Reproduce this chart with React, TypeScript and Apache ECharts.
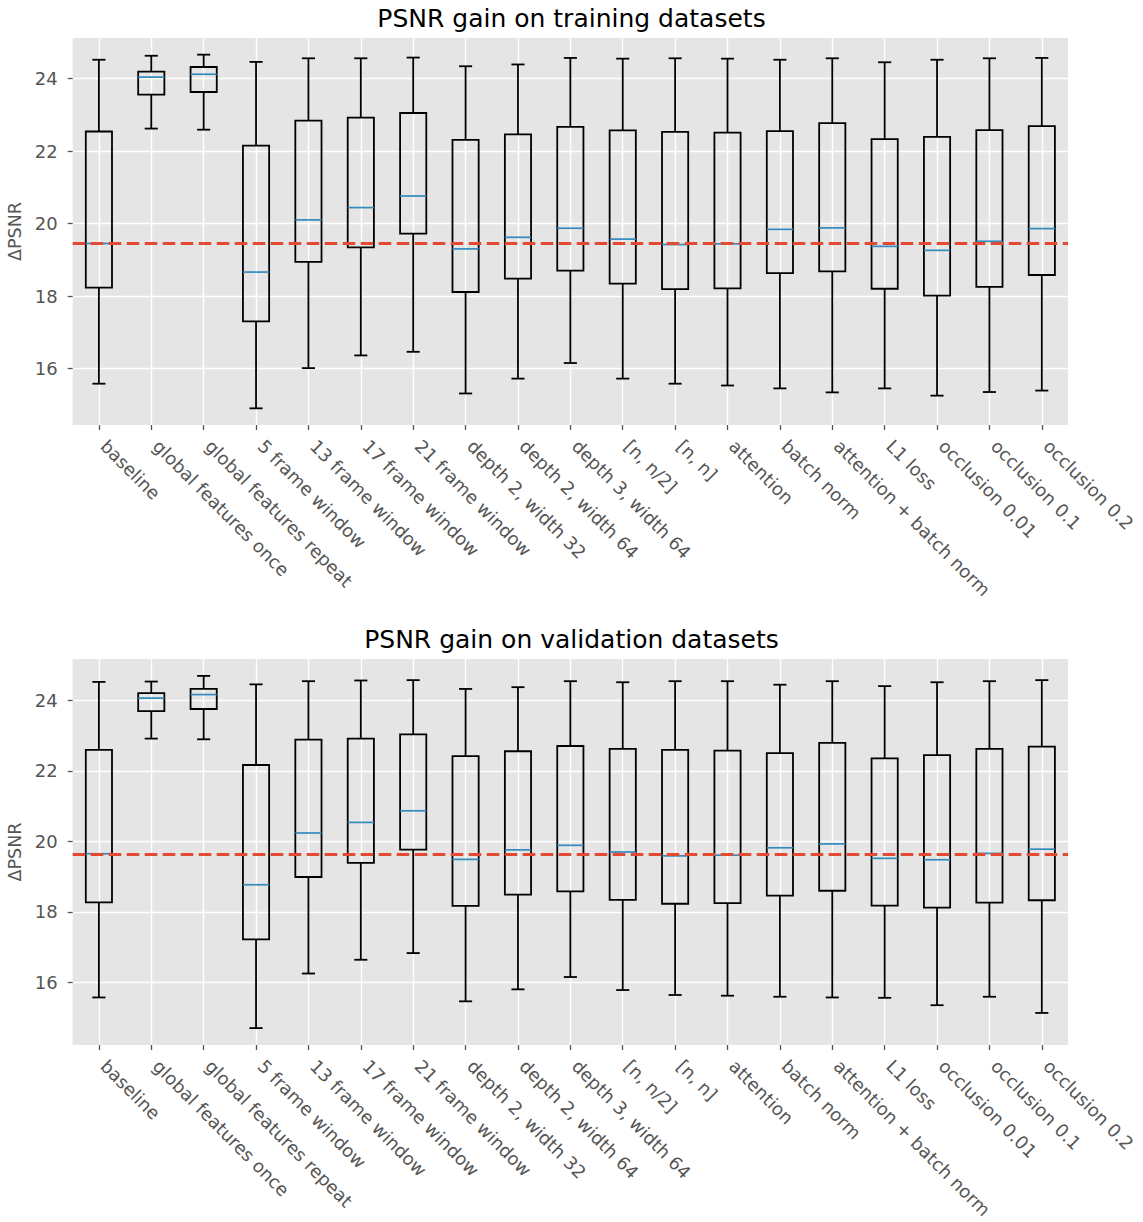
import React, { useEffect, useRef } from "react";
import * as echarts from "echarts";

const categories = [
  "baseline",
  "global features once",
  "global features repeat",
  "5 frame window",
  "13 frame window",
  "17 frame window",
  "21 frame window",
  "depth 2, width 32",
  "depth 2, width 64",
  "depth 3, width 64",
  "[n, n/2]",
  "[n, n]",
  "attention",
  "batch norm",
  "attention + batch norm",
  "L1 loss",
  "occlusion 0.01",
  "occlusion 0.1",
  "occlusion 0.2",
];

// Training datasets
const trainLow = [15.58, 22.62, 22.59, 14.9, 16.01, 16.36, 16.46, 15.31, 15.72, 16.15, 15.72, 15.58, 15.53, 15.45, 15.34, 15.45, 15.25, 15.35, 15.39];
const trainQ1 = [18.23, 23.56, 23.63, 17.3, 18.94, 19.34, 19.72, 18.11, 18.48, 18.7, 18.34, 18.19, 18.21, 18.63, 18.68, 18.2, 18.01, 18.25, 18.58];
const trainMed = [19.45, 24.04, 24.12, 18.66, 20.1, 20.44, 20.76, 19.3, 19.62, 19.87, 19.57, 19.42, 19.44, 19.84, 19.88, 19.37, 19.26, 19.51, 19.86];
const trainQ3 = [22.54, 24.19, 24.32, 22.15, 22.84, 22.92, 23.05, 22.31, 22.46, 22.67, 22.57, 22.53, 22.51, 22.55, 22.77, 22.33, 22.39, 22.58, 22.69];
const trainHigh = [24.52, 24.63, 24.66, 24.46, 24.56, 24.56, 24.58, 24.34, 24.39, 24.57, 24.55, 24.56, 24.55, 24.52, 24.56, 24.45, 24.52, 24.56, 24.57];

// Validation datasets
const valLow = [15.57, 22.92, 22.9, 14.7, 16.25, 16.64, 16.83, 15.46, 15.8, 16.15, 15.78, 15.64, 15.62, 15.59, 15.57, 15.56, 15.35, 15.59, 15.13];
const valQ1 = [18.27, 23.7, 23.76, 17.22, 18.99, 19.39, 19.77, 18.17, 18.49, 18.58, 18.34, 18.23, 18.25, 18.46, 18.6, 18.18, 18.12, 18.26, 18.33];
const valMed = [19.65, 24.07, 24.17, 18.77, 20.24, 20.54, 20.87, 19.49, 19.76, 19.89, 19.7, 19.59, 19.61, 19.82, 19.93, 19.52, 19.48, 19.66, 19.78];
const valQ3 = [22.6, 24.21, 24.33, 22.17, 22.89, 22.92, 23.04, 22.42, 22.56, 22.71, 22.63, 22.6, 22.58, 22.51, 22.8, 22.36, 22.45, 22.63, 22.69];
const valHigh = [24.53, 24.54, 24.7, 24.46, 24.55, 24.57, 24.58, 24.33, 24.38, 24.55, 24.52, 24.55, 24.55, 24.45, 24.55, 24.41, 24.52, 24.55, 24.58];

const yTicks = [16, 18, 20, 22, 24];
const titles = ["PSNR gain on training datasets", "PSNR gain on validation datasets"];
const yLimits = [
  [14.44, 25.12],
  [14.22, 25.18],
];

const FONT = "DejaVu Sans";
const TICK_COLOR = "#555555";
const MEDIAN_COLOR = "#348ABD";
const REF_COLOR = "#E24A33";

function buildRows(lo: number[], q1: number[], md: number[], q3: number[], hi: number[]) {
  return categories.map((_, i) => [i + 1, lo[i], q1[i], md[i], q3[i], hi[i]]);
}

const renderBox = (params: any, api: any) => {
  const x = api.value(0);
  const lo = api.coord([x, api.value(1)]);
  const q1 = api.coord([x, api.value(2)]);
  const md = api.coord([x, api.value(3)]);
  const q3 = api.coord([x, api.value(4)]);
  const hi = api.coord([x, api.value(5)]);
  const band = api.size([1, 0])[0];
  const bw = band * 0.5;
  const cw = band * 0.25;
  const cx = lo[0];
  const black = { stroke: "#000", lineWidth: 1.8, fill: "none" };
  return {
    type: "group",
    children: [
      { type: "line", shape: { x1: cx, y1: lo[1], x2: cx, y2: q1[1] }, style: black },
      { type: "line", shape: { x1: cx, y1: q3[1], x2: cx, y2: hi[1] }, style: black },
      { type: "line", shape: { x1: cx - cw / 2, y1: lo[1], x2: cx + cw / 2, y2: lo[1] }, style: black },
      { type: "line", shape: { x1: cx - cw / 2, y1: hi[1], x2: cx + cw / 2, y2: hi[1] }, style: black },
      {
        type: "rect",
        shape: { x: cx - bw / 2, y: q3[1], width: bw, height: q1[1] - q3[1] },
        style: black,
      },
      {
        type: "line",
        shape: { x1: cx - bw / 2, y1: md[1], x2: cx + bw / 2, y2: md[1] },
        style: { stroke: MEDIAN_COLOR, lineWidth: 1.7 },
      },
    ],
  };
};

export default function App() {
  const ref = useRef<HTMLDivElement>(null);
  useEffect(() => {
    if (!ref.current) return;
    const chart = echarts.init(ref.current, undefined, { renderer: "svg" });
    const gridTops = [38, 659];
    const gridHeights = [387, 386];
    const xIdx = categories.map((_, i) => i + 1);
    const datasets = [
      buildRows(trainLow, trainQ1, trainMed, trainQ3, trainHigh),
      buildRows(valLow, valQ1, valMed, valQ3, valHigh),
    ];
    const refValues = [trainMed[0], valMed[0]];
    const option: any = {
      animation: false,
      backgroundColor: "#ffffff",
      textStyle: { fontFamily: FONT },
      title: titles.map((t, i) => ({
        text: t,
        left: "center",
        top: gridTops[i] - 37,
        textStyle: { fontFamily: FONT, fontSize: 25, fontWeight: "normal", color: "#000" },
      })),
      grid: gridTops.map((top, i) => ({
        left: 72.7,
        right: 75,
        top,
        height: gridHeights[i],
        show: true,
        containLabel: false,
        outerBoundsMode: "none",
        backgroundColor: "#E5E5E5",
        borderWidth: 0,
      })),
      xAxis: [0, 1].map((i) => ({
        type: "value",
        gridIndex: i,
        min: 0.5,
        max: 19.5,
        axisLine: { show: false },
        axisTick: {
          show: true,
          customValues: xIdx,
          length: 5,
          lineStyle: { color: TICK_COLOR, width: 1.3 },
        },
        axisLabel: {
          customValues: xIdx,
          rotate: -45,
          margin: 13,
          padding: [0, 0, 0, 7],
          fontSize: 18,
          fontFamily: FONT,
          color: TICK_COLOR,
          formatter: (v: number) => categories[Math.round(v) - 1] ?? "",
        },
        splitLine: { show: true, lineStyle: { color: "#ffffff", width: 1.4 } },
      })),
      yAxis: [0, 1].map((i) => ({
        type: "value",
        gridIndex: i,
        min: yLimits[i][0],
        max: yLimits[i][1],
        name: "ΔPSNR",
        nameLocation: "middle",
        nameRotate: 90,
        nameGap: 39,
        nameTextStyle: { fontSize: 17.5, fontFamily: FONT, color: TICK_COLOR },
        axisLine: { show: false },
        axisTick: {
          show: true,
          customValues: yTicks,
          length: 5,
          lineStyle: { color: TICK_COLOR, width: 1.3 },
        },
        axisLabel: {
          customValues: yTicks,
          margin: 15,
          fontSize: 18,
          fontFamily: FONT,
          color: TICK_COLOR,
        },
        splitLine: { show: true, lineStyle: { color: "#ffffff", width: 1.4 } },
      })),
      series: [0, 1].map((i) => ({
        type: "custom",
        xAxisIndex: i,
        yAxisIndex: i,
        data: datasets[i],
        encode: { x: 0, y: [1, 2, 3, 4, 5] },
        renderItem: renderBox,
        silent: true,
        markLine: {
          silent: true,
          symbol: "none",
          label: { show: false },
          lineStyle: { color: REF_COLOR, type: [12.6, 5.4], width: 3.2 },
          data: [{ yAxis: refValues[i] }],
        },
      })),
    };
    chart.setOption(option);
    return () => chart.dispose();
  }, []);
  return (
    <div
      ref={ref}
      style={{ position: "absolute", left: 0, top: 0, width: 1143, height: 1222 }}
    />
  );
}
